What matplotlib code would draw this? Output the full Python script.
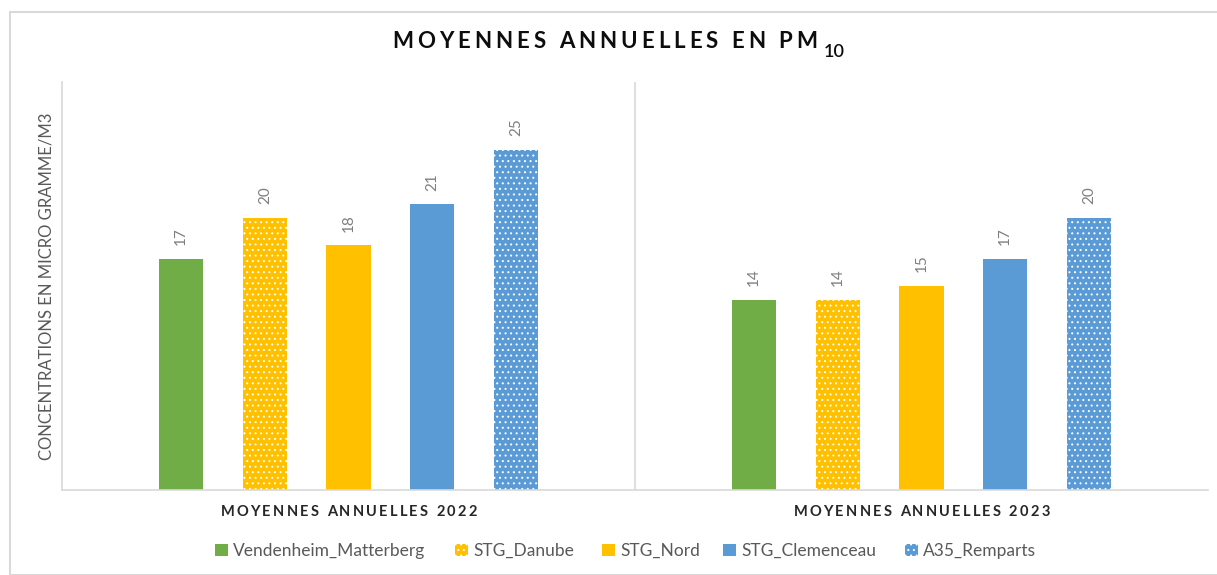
import matplotlib.pyplot as plt
from matplotlib.patches import Rectangle

plt.rcParams['font.family'] = ['Lato', 'DejaVu Sans']
plt.rcParams['hatch.linewidth'] = 0.7

groups = ['MOYENNES ANNUELLES 2022', 'MOYENNES ANNUELLES 2023']
stations = ['Vendenheim_Matterberg', 'STG_Danube', 'STG_Nord', 'STG_Clemenceau', 'A35_Remparts']
values = {
    'Vendenheim_Matterberg': [17, 14],
    'STG_Danube': [20, 14],
    'STG_Nord': [18, 15],
    'STG_Clemenceau': [21, 17],
    'A35_Remparts': [25, 20],
}
colors = ['#70AD47', '#FFC000', '#FFC000', '#5B9BD5', '#5B9BD5']
hatches = [None, '...', None, None, '...']

W, H = 1217, 575
fig = plt.figure(figsize=(W / 100, H / 100), dpi=100)
renderer = fig.canvas.get_renderer()


def text_width(s, **kw):
    t = fig.text(0, 0, s, **kw)
    w = t.get_window_extent(renderer).width
    t.remove()
    return w


def spaced_text(x0, y, s, track, center=True, **kw):
    # draw s with extra letter spacing (px); x0 is centre or left edge
    ref = text_width('x', **kw)
    offs = [text_width(s[:i] + 'x', **kw) - ref for i in range(len(s))]
    total = text_width(s, **kw) + track * (len(s) - 1)
    if center:
        x0 = x0 - total / 2
    for i, ch in enumerate(s):
        if ch != ' ':
            fig.text((x0 + offs[i] + i * track) / W, 1 - y / H, ch, va='baseline', **kw)
    return x0 + total


fig.patches.append(Rectangle((10 / W, 0), 1.2, 1 - 12 / H, transform=fig.transFigure,
                             fill=False, edgecolor='#d9d9d9', linewidth=1.5))

ax = fig.add_axes([62 / W, 1 - 490 / H, (1208 - 62) / W, (490 - 82) / H])
step = 0.146
width = 0.077
handles = []
for i, st in enumerate(stations):
    xs = [g + (i - 2) * step for g in range(len(groups))]
    if hatches[i]:
        b = ax.bar(xs, values[st], width, color=colors[i], edgecolor='white',
                   linewidth=0, hatch=hatches[i], label=st)
    else:
        b = ax.bar(xs, values[st], width, color=colors[i], linewidth=0, label=st)
    handles.append(b)
    for x, v in zip(xs, values[st]):
        ax.text(x, v + 1.0, str(v), rotation=90, ha='center', va='bottom',
                fontsize=11, color='#7f7f7f')

ax.set_xlim(-0.5, 1.5)
ax.set_ylim(0, 30)
ax.set_yticks([])
ax.set_xticks([])
for s in ['top', 'right']:
    ax.spines[s].set_visible(False)
for s in ['left', 'bottom']:
    ax.spines[s].set_color('#d9d9d9')
    ax.spines[s].set_linewidth(1.2)
ax.axvline(0.5, color='#d9d9d9', linewidth=1.2)

fig.text(47 / W, 1 - 286 / H, 'CONCENTRATIONS EN MICRO GRAMME/M3', rotation=90,
         ha='center', va='center', fontsize=12, color='#595959')

# group labels, letter-spaced
for g, lab in enumerate(groups):
    xc = 62 + (g + 0.5) * (1208 - 62) / 2
    spaced_text(xc, 516, lab, 2.3, fontsize=10.5, fontweight='bold', color='#262626')

# title with subscript
tkw = dict(fontsize=16, fontweight='bold', color='#0d0d0d')
end = spaced_text(392, 48, 'MOYENNES ANNUELLES EN PM', 4.0, center=False, **tkw)
fig.text((end + 6) / W, 1 - 57 / H, '10', va='baseline', fontsize=13,
         fontweight='semibold', color='#0d0d0d')

# legend entries placed like the original (one small legend per entry)
leg_x = [215, 455, 602, 723, 905]
for h, st, lx in zip(handles, stations, leg_x):
    leg = fig.legend([h], [st], loc='center left', bbox_to_anchor=(lx / W, 1 - 551 / H),
                     frameon=False, fontsize=12.5, handlelength=0.75, handleheight=0.75,
                     handletextpad=0.3, borderpad=0, borderaxespad=0)
    for t in leg.get_texts():
        t.set_color('#595959')

fig.savefig('out.png', dpi=100)
